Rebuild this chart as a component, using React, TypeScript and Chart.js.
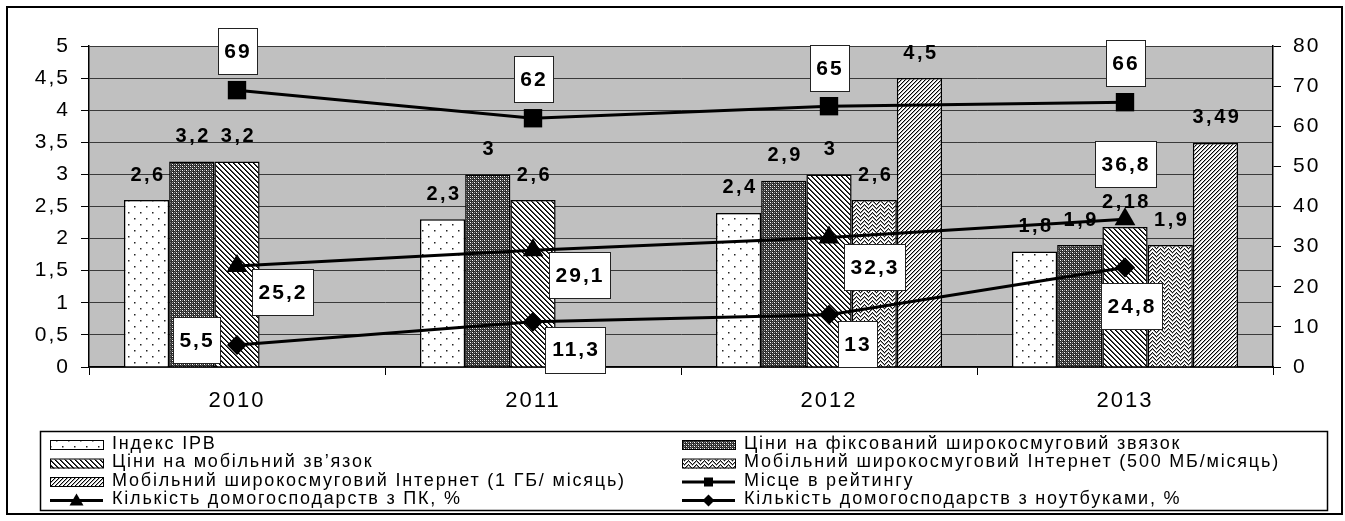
import React, { useEffect, useRef } from 'react';
import { Chart, registerables } from 'chart.js';

Chart.register(...registerables);

// ---- data -------------------------------------------------------------
const years = ['2010', '2011', '2012', '2013'];

const ipbIndex: (number | null)[] = [2.6, 2.3, 2.4, 1.8];
const fixedBroadbandPrices: (number | null)[] = [3.2, 3, 2.9, 1.9];
const mobilePrices: (number | null)[] = [3.2, 2.6, 3, 2.18];
const mobileInternet500: (number | null)[] = [null, null, 2.6, 1.9];
const mobileInternet1GB: (number | null)[] = [null, null, 4.5, 3.49];

const ratingPlace = [69, 62, 65, 66];
const householdsPC = [25.2, 29.1, 32.3, 36.8];
const householdsLaptop = [5.5, 11.3, 13, 24.8];

const leftAxis = { min: 0, max: 5, step: 0.5 };
const rightAxis = { min: 0, max: 80, step: 10 };

const seriesNames = [
  'Індекс IPB',
  'Ціни на фіксований широкосмуговий звязок',
  'Ціни на мобільний зв’язок',
  'Мобільний широкосмуговий Інтернет (500 МБ/місяць)',
  'Мобільний широкосмуговий Інтернет (1 ГБ/ місяць)',
  'Місце в рейтингу',
  'Кількість домогосподарств з ПК, %',
  'Кількість домогосподарств з ноутбуками, %',
];

// offsets of the boxed value labels from their points (px)
const ratingLabelShift = [[0, -39], [0, -39], [0, -38], [0, -39]];
const pcLabelShift = [[45, 26], [46, 25], [45, 30], [0, -55]];
const laptopLabelShift = [[-41, -5], [42, 28], [28, 29], [6, 39]];

const FONT = '"Liberation Sans", Arial, sans-serif';
const fmt = (v: number) => String(v).replace('.', ',');

// ---- hatch fills --------------------------------------------------------
function tile(w: number, h: number, paint: (g: CanvasRenderingContext2D) => void) {
  const c = document.createElement('canvas');
  c.width = w;
  c.height = h;
  const g = c.getContext('2d')!;
  paint(g);
  return c;
}

function makePatterns() {
  const g0 = document.createElement('canvas').getContext('2d')!;
  const dots = tile(12, 12, (g) => {
    g.fillStyle = '#fff';
    g.fillRect(0, 0, 12, 12);
    g.fillStyle = '#222';
    g.fillRect(2, 2, 1.5, 1.5);
    g.fillRect(8, 8, 1.5, 1.5);
  });
  const weave = tile(4, 4, (g) => {
    g.fillStyle = '#2a2a2a';
    g.fillRect(0, 0, 4, 4);
    g.fillStyle = '#fff';
    g.fillRect(0, 0, 1, 1);
    g.fillRect(2, 2, 1, 1);
    g.fillStyle = '#9a9a9a';
    g.fillRect(2, 0, 1, 1);
    g.fillRect(0, 2, 1, 1);
    g.fillStyle = '#555';
    g.fillRect(1, 1, 1, 1);
    g.fillRect(3, 3, 1, 1);
  });
  const back = tile(5, 5, (g) => {
    g.fillStyle = '#fff';
    g.fillRect(0, 0, 5, 5);
    for (let x = 0; x < 5; x++)
      for (let y = 0; y < 5; y++) {
        const d = (x - y + 5) % 5;
        if (d === 0) { g.fillStyle = '#000'; g.fillRect(x, y, 1, 1); }
        if (d === 1) { g.fillStyle = '#444'; g.fillRect(x, y, 1, 1); }
      }
  });
  const zig = tile(8, 8, (g) => {
    g.fillStyle = '#fff';
    g.fillRect(0, 0, 8, 8);
    for (let x = 0; x < 8; x++) {
      const t = x < 4 ? x : 8 - x;
      for (let y = 0; y < 8; y++) {
        const d = (y - t + 8) % 4;
        if (d === 0) { g.fillStyle = '#111'; g.fillRect(x, y, 1, 1); }
        if (d === 1) { g.fillStyle = '#999'; g.fillRect(x, y, 1, 1); }
      }
    }
  });
  const fwd = tile(4, 4, (g) => {
    g.fillStyle = '#fff';
    g.fillRect(0, 0, 4, 4);
    for (let x = 0; x < 4; x++)
      for (let y = 0; y < 4; y++) {
        const d = (x + y) % 4;
        if (d === 0) { g.fillStyle = '#000'; g.fillRect(x, y, 1, 1); }
        if (d === 1) { g.fillStyle = '#aaa'; g.fillRect(x, y, 1, 1); }
      }
  });
  return [dots, weave, back, zig, fwd].map((c) => g0.createPattern(c, 'repeat')!);
}

// ---- plugins ------------------------------------------------------------
const plotFrame = {
  id: 'plotFrame',
  beforeDraw(chart: any) {
    const { ctx, chartArea } = chart;
    ctx.save();
    ctx.fillStyle = '#fff';
    ctx.fillRect(0, 0, chart.width, chart.height);
    ctx.fillStyle = '#c0c0c0';
    ctx.fillRect(chartArea.left, chartArea.top, chartArea.right - chartArea.left, chartArea.bottom - chartArea.top);
    ctx.restore();
    ctx.letterSpacing = '2px';
    chart.$barLabelsDone = false;
  },
  afterDraw(chart: any) {
    chart.ctx.letterSpacing = '0px';
  },
};

function drawBarLabels(chart: any) {
  const { ctx } = chart;
  ctx.save();
  ctx.font = `bold 20px ${FONT}`;
  ctx.letterSpacing = '2.5px';
  ctx.fillStyle = '#000';
  ctx.textAlign = 'center';
  ctx.textBaseline = 'middle';
  chart.data.datasets.forEach((ds: any, i: number) => {
    if (ds.type !== 'bar') return;
    const meta = chart.getDatasetMeta(i);
    meta.data.forEach((bar: any, j: number) => {
      const v = ds.data[j];
      if (v == null) return;
      ctx.fillText(fmt(v), bar.x + 1.5, bar.y - 25);
    });
  });
  ctx.restore();
}

const barValueLabels = {
  id: 'barValueLabels',
  beforeDatasetDraw(chart: any, args: any) {
    if (args.meta.type === 'line' && !chart.$barLabelsDone) {
      drawBarLabels(chart);
      chart.$barLabelsDone = true;
    }
  },
};

function drawBox(ctx: CanvasRenderingContext2D, cx: number, cy: number, text: string) {
  ctx.font = `bold 21px ${FONT}`;
  ctx.letterSpacing = '2px';
  const w = Math.round(ctx.measureText(text).width + 12);
  const h = 46;
  const x = Math.round(cx - w / 2);
  const y = Math.round(cy - h / 2);
  ctx.fillStyle = '#fff';
  ctx.fillRect(x, y, w, h);
  ctx.strokeStyle = '#222';
  ctx.lineWidth = 1;
  ctx.strokeRect(x + 0.5, y + 0.5, w, h);
  ctx.fillStyle = '#000';
  ctx.textAlign = 'center';
  ctx.textBaseline = 'middle';
  ctx.fillText(text, cx + 1, cy + 1);
}

const pointValueBoxes = {
  id: 'pointValueBoxes',
  afterDatasetsDraw(chart: any) {
    const { ctx } = chart;
    ctx.save();
    chart.data.datasets.forEach((ds: any, i: number) => {
      if (ds.type !== 'line') return;
      const shift: number[][] = ds.labelShift;
      chart.getDatasetMeta(i).data.forEach((pt: any, j: number) => {
        drawBox(ctx, pt.x + shift[j][0], pt.y + shift[j][1], fmt(ds.data[j]));
      });
    });
    ctx.restore();
  },
};

// two-column key below the plot, plus the outer frame
const keyLayout = [
  { ds: 0, col: 0, row: 0 },
  { ds: 2, col: 0, row: 1 },
  { ds: 4, col: 0, row: 2 },
  { ds: 6, col: 0, row: 3 },
  { ds: 1, col: 1, row: 0 },
  { ds: 3, col: 1, row: 1 },
  { ds: 5, col: 1, row: 2 },
  { ds: 7, col: 1, row: 3 },
];

const chartKey = {
  id: 'chartKey',
  afterDraw(chart: any) {
    const { ctx } = chart;
    ctx.save();
    ctx.letterSpacing = '0px';
    // key frame
    ctx.strokeStyle = '#000';
    ctx.lineWidth = 1.5;
    ctx.strokeRect(40.5, 431.5, 1287, 79);
    const colX = [50, 682];
    const rowY = [444, 462.5, 481, 499.5];
    ctx.font = `18px ${FONT}`;
    ctx.textAlign = 'left';
    ctx.textBaseline = 'middle';
    keyLayout.forEach(({ ds, col, row }) => {
      const d: any = chart.data.datasets[ds];
      const x0 = colX[col];
      const y = rowY[row];
      if (d.type === 'bar') {
        ctx.fillStyle = d.backgroundColor;
        ctx.fillRect(x0, y - 3, 53, 9);
        ctx.strokeStyle = '#000';
        ctx.lineWidth = 1;
        ctx.strokeRect(x0 + 0.5, y - 3.5, 53, 9);
      } else {
        ctx.strokeStyle = '#000';
        ctx.lineWidth = 3;
        ctx.beginPath();
        ctx.moveTo(x0, y + 1);
        ctx.lineTo(x0 + 53, y + 1);
        ctx.stroke();
        ctx.fillStyle = '#000';
        const cx = x0 + 26.5;
        const cy = y + 1;
        ctx.beginPath();
        if (d.pointStyle === 'triangle') {
          ctx.moveTo(cx, cy - 7);
          ctx.lineTo(cx + 7, cy + 5);
          ctx.lineTo(cx - 7, cy + 5);
        } else if (d.pointStyle === 'rect') {
          ctx.rect(cx - 4.5, cy - 4.5, 9, 9);
        } else {
          ctx.moveTo(cx, cy - 6);
          ctx.lineTo(cx + 6, cy);
          ctx.lineTo(cx, cy + 6);
          ctx.lineTo(cx - 6, cy);
        }
        ctx.closePath();
        ctx.fill();
      }
      ctx.fillStyle = '#000';
      ctx.letterSpacing = '1.8px';
      ctx.fillText(d.label, x0 + 62, y);
      ctx.letterSpacing = '0px';
    });
    // outer frame
    ctx.lineWidth = 2;
    ctx.strokeRect(7, 7, 1335, 507);
    ctx.restore();
  },
};

// ---- component ----------------------------------------------------------
export default function App() {
  const canvasRef = useRef<HTMLCanvasElement>(null);

  useEffect(() => {
    const [dots, weave, back, zig, fwd] = makePatterns();
    const barStyle = { type: 'bar' as const, borderColor: '#000', borderWidth: 1.5, order: 1, yAxisID: 'y' };
    const lineStyle = {
      type: 'line' as const,
      borderColor: '#000',
      borderWidth: 3,
      pointBackgroundColor: '#000',
      pointBorderColor: '#000',
      pointBorderWidth: 0,
      order: 0,
      yAxisID: 'y1',
    };

    const chart = new Chart(canvasRef.current!, {
      data: {
        labels: years,
        datasets: [
          { ...barStyle, label: seriesNames[0], data: ipbIndex, backgroundColor: dots },
          { ...barStyle, label: seriesNames[1], data: fixedBroadbandPrices, backgroundColor: weave },
          { ...barStyle, label: seriesNames[2], data: mobilePrices, backgroundColor: back },
          { ...barStyle, label: seriesNames[3], data: mobileInternet500, backgroundColor: zig },
          { ...barStyle, label: seriesNames[4], data: mobileInternet1GB, backgroundColor: fwd },
          { ...lineStyle, label: seriesNames[5], data: ratingPlace, pointStyle: 'rect', pointRadius: 13, labelShift: ratingLabelShift } as any,
          { ...lineStyle, label: seriesNames[6], data: householdsPC, pointStyle: 'triangle', pointRadius: 12, labelShift: pcLabelShift } as any,
          { ...lineStyle, label: seriesNames[7], data: householdsLaptop, pointStyle: 'rectRot', pointRadius: 10, labelShift: laptopLabelShift } as any,
        ],
      },
      options: {
        responsive: false,
        animation: false,
        devicePixelRatio: 1,
        events: [],
        layout: { padding: { top: 46, left: 0, right: 0, bottom: 0 } },
        datasets: { bar: { categoryPercentage: 0.764, barPercentage: 1 } },
        plugins: { legend: { display: false }, tooltip: { enabled: false } },
        scales: {
          x: {
            grid: { drawOnChartArea: false, drawTicks: true, tickLength: 8, color: '#000', offset: true },
            border: { display: true, color: '#000', width: 1.5 },
            ticks: { color: '#000', font: { family: FONT, size: 22 }, padding: 13, maxRotation: 0 },
            afterFit(s: any) { s.height = 154; },
          },
          y: {
            position: 'left',
            min: leftAxis.min,
            max: leftAxis.max,
            ticks: {
              stepSize: leftAxis.step,
              color: '#000',
              font: { family: FONT, size: 21 },
              padding: 11,
              callback: (v: any) => fmt(Number(v)),
            },
            grid: { color: '#3a3a3a', tickColor: '#000', tickLength: 8, lineWidth: 1 },
            border: { color: '#000', width: 1.5 },
            afterFit(s: any) { s.width = 89; },
          },
          y1: {
            position: 'right',
            min: rightAxis.min,
            max: rightAxis.max,
            ticks: { stepSize: rightAxis.step, color: '#000', font: { family: FONT, size: 21 }, padding: 12 },
            grid: { drawOnChartArea: false, color: '#000', tickLength: 8 },
            border: { color: '#000', width: 1.5 },
            afterFit(s: any) { s.width = 72; },
          },
        },
      },
      plugins: [plotFrame, barValueLabels, pointValueBoxes, chartKey],
    } as any);

    return () => chart.destroy();
  }, []);

  return (
    <div style={{ position: 'absolute', left: 0, top: 0, width: 1345, height: 521, background: '#fff' }}>
      <canvas ref={canvasRef} width={1345} height={521} style={{ display: 'block', width: 1345, height: 521 }} />
    </div>
  );
}
